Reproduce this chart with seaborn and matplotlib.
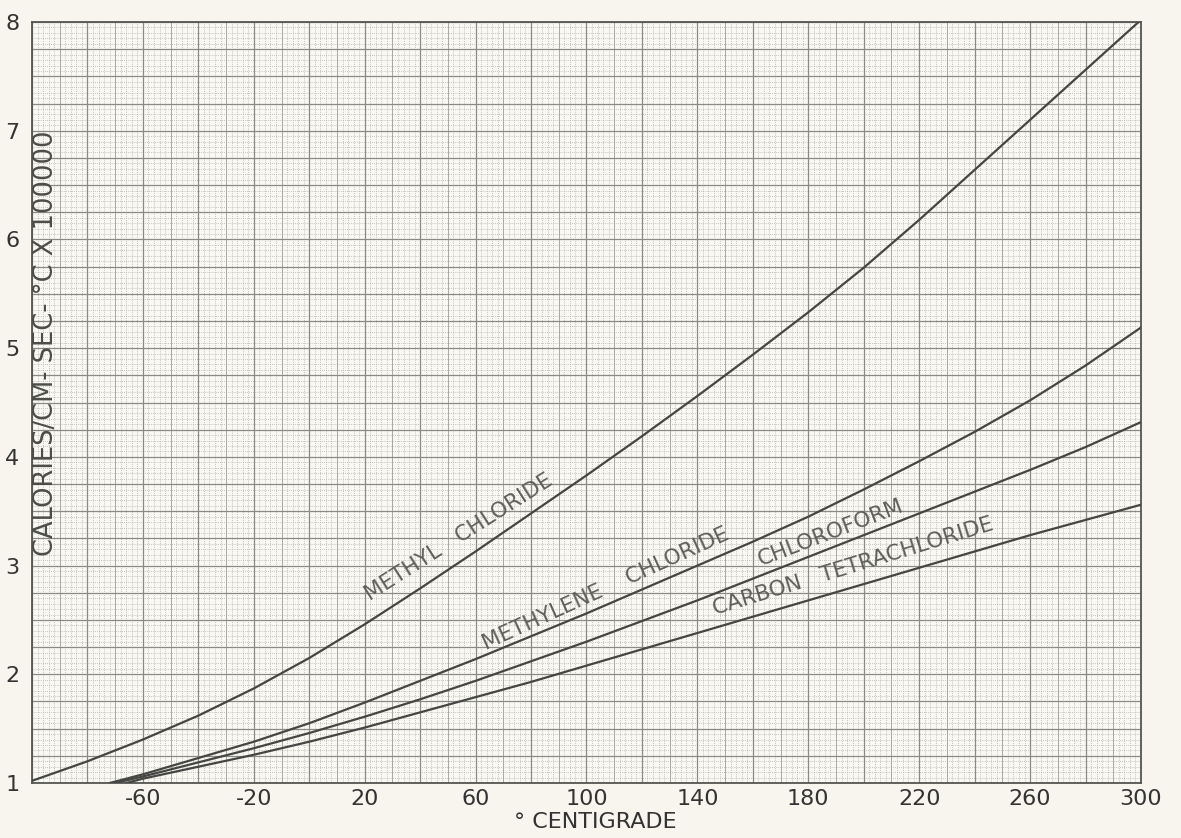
import numpy as np
import pandas as pd
import matplotlib
matplotlib.use('Agg')
import matplotlib.pyplot as plt
import seaborn as sns

# values (deg C, cal/cm-sec-C x 100000)
temp_methyl = [-100, -80, -60, -40, -20, 0, 20, 40, 60, 80, 100, 120, 140, 160, 180, 200, 220, 240, 260, 280, 300]
methyl_chloride = [1.02, 1.20, 1.40, 1.62, 1.87, 2.15, 2.46, 2.79, 3.13, 3.48, 3.83, 4.19, 4.56, 4.94, 5.33, 5.74, 6.18, 6.64, 7.10, 7.56, 8.02]

temp_methylene = [-72, -60, -40, -20, 0, 20, 40, 60, 80, 100, 120, 140, 160, 180, 200, 220, 240, 260, 280, 300]
methylene_chloride = [1.00, 1.08, 1.23, 1.38, 1.55, 1.74, 1.94, 2.14, 2.35, 2.56, 2.78, 3.00, 3.22, 3.45, 3.70, 3.96, 4.23, 4.52, 4.84, 5.19]

temp_chloroform = [-70, -60, -40, -20, 0, 20, 40, 60, 80, 100, 120, 140, 160, 180, 200, 220, 240, 260, 280, 300]
chloroform = [1.00, 1.06, 1.19, 1.32, 1.46, 1.61, 1.77, 1.94, 2.12, 2.30, 2.49, 2.68, 2.88, 3.08, 3.28, 3.48, 3.68, 3.88, 4.09, 4.32]

temp_carbon = [-66, -60, -40, -20, 0, 20, 40, 60, 80, 100, 120, 140, 160, 180, 200, 220, 240, 260, 280, 300]
carbon_tet = [1.00, 1.04, 1.15, 1.26, 1.38, 1.51, 1.65, 1.79, 1.93, 2.08, 2.23, 2.38, 2.53, 2.68, 2.83, 2.98, 3.13, 3.28, 3.42, 3.56]

x_ticks = [-60, -20, 20, 60, 100, 140, 180, 220, 260, 300]
y_ticks = [1, 2, 3, 4, 5, 6, 7, 8]

# curve labels: text, position (deg, value), screen angle
labels = [
    ('METHYL   CHLORIDE', 54, 3.26, 32.5),
    ('METHYLENE    CHLORIDE', 107, 2.79, 24.5),
    ('CHLOROFORM', 188, 3.30, 21.0),
    ('CARBON   TETRACHLORIDE', 196, 2.99, 17.0),
]

sns.set_theme(style='white')
plt.rcParams['font.family'] = ['DejaVu Sans']

paper = '#f7f5ee'
fig = plt.figure(figsize=(11.81, 8.38), dpi=100, facecolor=paper)
ax = fig.add_axes([0.0271, 0.0656, 0.939, 0.9081])
ax.set_facecolor('#f9f8f3')
ax.set_xlim(-100, 300)
ax.set_ylim(1, 8)

# graph paper grid
ax.vlines(np.arange(-100, 301, 2), 1, 8, colors='#b4b4af', linewidth=0.6, linestyles=(0, (1, 1.5)), zorder=1)
ax.hlines(np.arange(1, 8.001, 0.05), -100, 300, colors='#b4b4af', linewidth=0.6, linestyles=(0, (1, 1.5)), zorder=1)
ax.vlines(np.arange(-100, 301, 10), 1, 8, colors='#aaaaa5', linewidth=0.7, zorder=1)
ax.vlines(np.arange(-100, 301, 20), 1, 8, colors='#8a8a86', linewidth=0.9, zorder=1)
ax.hlines(np.arange(1, 8.001, 0.25), -100, 300, colors='#8a8a86', linewidth=0.9, zorder=1)

series = [
    (temp_methyl, methyl_chloride),
    (temp_methylene, methylene_chloride),
    (temp_chloroform, chloroform),
    (temp_carbon, carbon_tet),
]
for xs, ys in series:
    sns.lineplot(x=xs, y=ys, ax=ax, color='#454543', linewidth=1.6, zorder=3, legend=False)

for text, tx, ty, ang in labels:
    ax.text(tx, ty, text, rotation=ang, rotation_mode='anchor', ha='center', va='center',
            fontsize=15.5, color='#5e5e5a', zorder=4)

ax.set_xticks(x_ticks)
ax.set_xticklabels([str(v) for v in x_ticks], fontsize=16, color='#333333')
ax.set_yticks(y_ticks)
ax.set_yticklabels([str(v) for v in y_ticks], fontsize=16, color='#333333')
ax.tick_params(axis='both', length=0)
ax.tick_params(axis='x', pad=4)
ax.tick_params(axis='y', pad=9)
ax.set_xlabel('')
ax.set_ylabel('')

for s in ax.spines.values():
    s.set_color('#555552')
    s.set_linewidth(1.3)

ax.text(0.0125, 0.578, 'CALORIES/CM- SEC- °C X 100000', transform=ax.transAxes, rotation=90,
        ha='center', va='center', fontsize=18.5, color='#4c4c49', zorder=4)
fig.text(595 / 1181, 1 - 822 / 838, '° CENTIGRADE', ha='center', va='center', fontsize=16, color='#333333')

fig.savefig('out.png', dpi=100, facecolor=paper)
